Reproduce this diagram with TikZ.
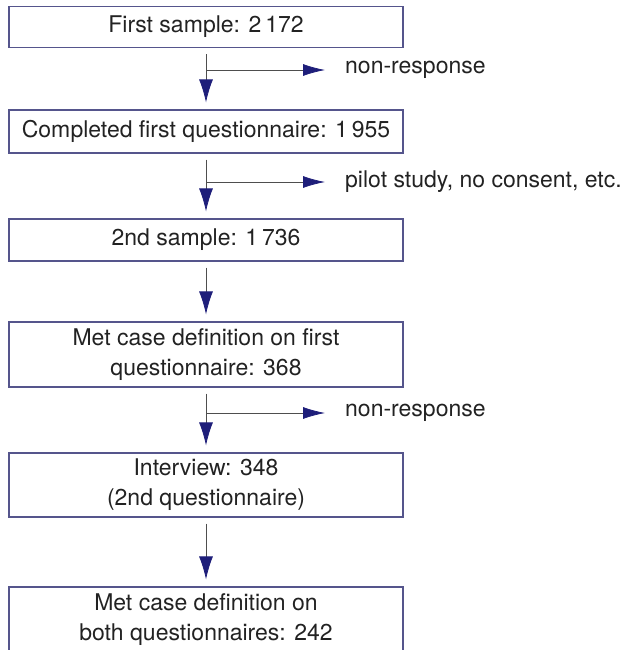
\documentclass[tikz,border=0pt]{standalone}
\usepackage{fontspec}
\setmainfont{TeX Gyre Heros}
\usetikzlibrary{arrows.meta}
\definecolor{boxline}{HTML}{55558C}
\definecolor{navy}{HTML}{1E1E7A}
\definecolor{ink}{HTML}{222222}

\begin{document}
\begin{tikzpicture}[x=1pt,y=-1pt,> =Latex]
  \tikzset{
    stagebox/.style={draw=boxline,line width=1.2pt,text=ink,align=center,
      minimum width=394pt,inner sep=0pt,font=\fontsize{23}{30}\selectfont},
    lossnote/.style={anchor=west,inner sep=0pt,text=ink,
      font=\fontsize{23}{30}\selectfont},
    flow/.style={draw=ink!80,line width=0.8pt,
      -{Latex[length=23pt,width=14pt,color=navy]},shorten <=6pt,shorten >=7pt},
    drop/.style={draw=ink!80,line width=0.8pt,
      -{Latex[length=22pt,width=12pt,color=navy]},shorten >=20pt},
  }
  \useasboundingbox (0,0) rectangle (633,650);

  % stages
  \node[stagebox,minimum height=41pt] (b1) at (206,27) {First sample: 2\,172};
  \node[stagebox,minimum height=43pt] (b2) at (206,131.5)
    {Completed first questionnaire: 1\,955};
  \node[stagebox,minimum height=42pt] (b3) at (206,240) {2nd sample: 1\,736};
  \node[stagebox,minimum height=65pt] (b4) at (206,354.5)
    {Met case definition on first\\questionnaire: 368};
  \node[stagebox,minimum height=64pt] (b5) at (206,485)
    {Interview: 348\\(2nd questionnaire)};
  \node[stagebox,minimum height=66pt] (b6) at (206,620)
    {Met case definition on\\both questionnaires: 242};

  % losses
  \node[lossnote] (n1) at (345,70) {non-response};
  \node[lossnote] (n2) at (345,182) {pilot study, no consent, etc.};
  \node[lossnote] (n3) at (345,413) {non-response};

  \draw[flow] (b1) -- (b2);
  \draw[flow] (b2) -- (b3);
  \draw[flow] (b3) -- (b4);
  \draw[flow] (b4) -- (b5);
  \draw[flow] (b5) -- (b6);

  \draw[drop] (b1.south |- n1.west) -- (n1.west);
  \draw[drop] (b2.south |- n2.west) -- (n2.west);
  \draw[drop] (b4.south |- n3.west) -- (n3.west);
\end{tikzpicture}
\end{document}
